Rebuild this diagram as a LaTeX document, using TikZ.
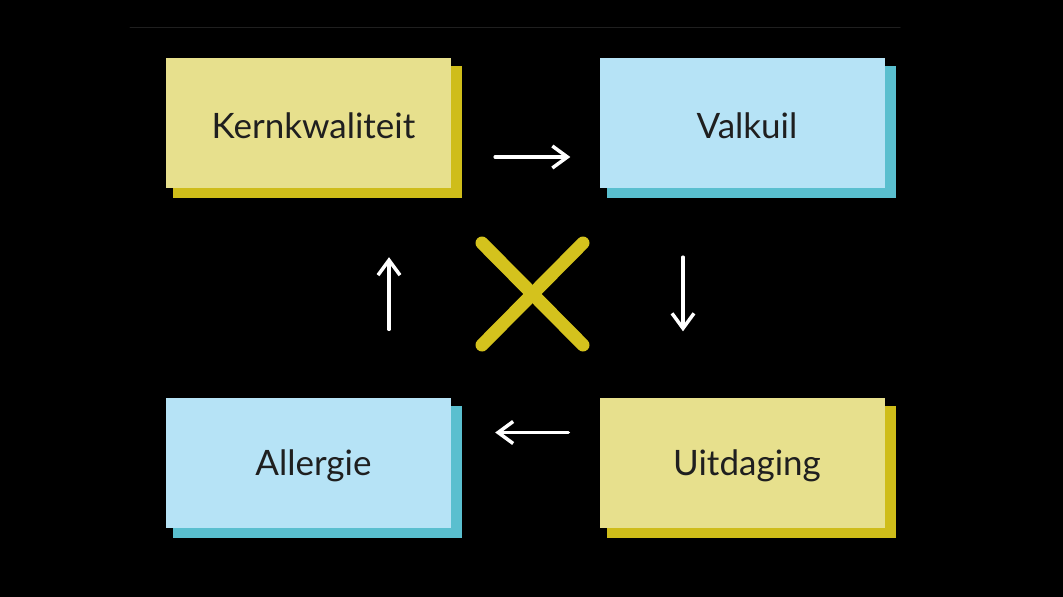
\documentclass[tikz,border=0pt]{standalone}
\usepackage{fontspec}
\setmainfont{Lato}
\usetikzlibrary{arrows.meta,shadows}
\definecolor{geel}{HTML}{E7E08D}
\definecolor{geelschaduw}{HTML}{CFBD1A}
\definecolor{blauw}{HTML}{B6E3F6}
\definecolor{blauwschaduw}{HTML}{5ABFCF}
\definecolor{kruis}{HTML}{D4C21D}
\begin{document}
\begin{tikzpicture}[x=1pt, y=-1pt, >={Straight Barb[length=15pt,width=22pt]}, line join=round, line cap=round,
		kaart/.style={minimum width=285pt, minimum height=130pt, inner sep=0pt},
		kaartgeel/.style={kaart, fill=geel, drop shadow={shadow xshift=9pt, shadow yshift=-9pt, shadow scale=1.015, fill=geelschaduw, opacity=1}},
		kaartblauw/.style={kaart, fill=blauw, drop shadow={shadow xshift=9pt, shadow yshift=-9pt, shadow scale=1.015, fill=blauwschaduw, opacity=1}},
		every label/.style={xshift=5pt, yshift=-3pt, text=black!88, font=\fontsize{35}{40}\selectfont},
		pijl/.style={->, white, line width=3.5pt}]
				\fill[black] (0,0) rectangle (1063,597);
				\draw[black!88!white, line width=1pt] (130,27)--(900,27);
				% de vier kaarten
				\node[kaartgeel, label=center:Kernkwaliteit] (kern) at (308.5,123) {};
				\node[kaartblauw, label=center:Valkuil] (valk) at (742,123) {};
				\node[kaartgeel, label=center:Uitdaging] (uitd) at (742,462.5) {};
				\node[kaartblauw, label=center:Allergie] (allerg) at (308.5,462.5) {};
				% pijlen rond
				\draw[pijl, shorten <=44pt, shorten >=29pt] ([yshift=-34pt]kern.east)--([yshift=-34pt]valk.west);
				\draw[pijl, shorten <=69pt, shorten >=66pt] ([xshift=-59pt]valk.south)--([xshift=-59pt]uitd.north);
				\draw[pijl, shorten <=31pt, shorten >=44pt] ([yshift=30pt]uitd.west)--([yshift=30pt]allerg.east);
				\draw[pijl, shorten <=68pt, shorten >=69pt] ([xshift=80.5pt]allerg.north)--([xshift=80.5pt]kern.south);
				% kruis in het midden
				\foreach \s in {-1,1} \draw[kruis, line width=13pt] (532.5,294)--++(\s*50.5,-51) (532.5,294)--++(-\s*50.5,51);
			\end{tikzpicture}
\end{document}
